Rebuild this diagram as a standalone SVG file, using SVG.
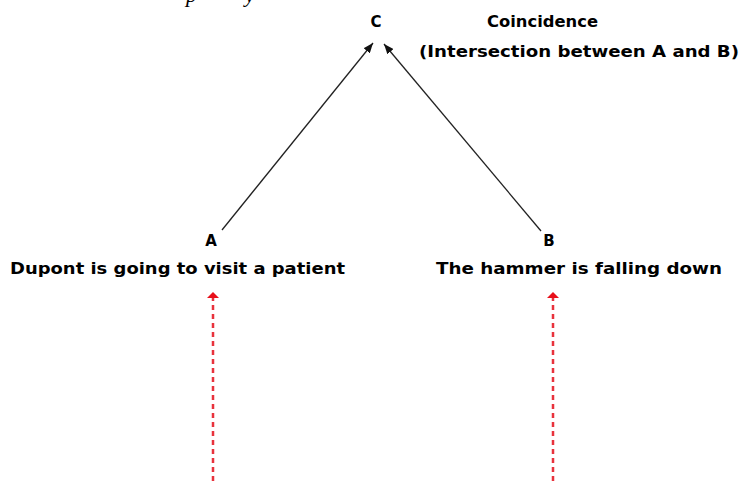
<svg xmlns="http://www.w3.org/2000/svg" width="744" height="481" viewBox="0 0 744 481">
<style>
.lbl{font-family:"DejaVu Sans","Verdana",sans-serif;font-weight:bold;font-size:15px;fill:#000}
.frag{font-family:"Liberation Serif",serif;font-style:italic;font-size:22px;fill:#000}
.blk{stroke:#222;stroke-width:1.3;fill:none}
.red{stroke:#e8323c;stroke-width:2.5;stroke-dasharray:5 4;fill:none}
</style>
<defs>
<marker id="ah" markerWidth="10" markerHeight="8" refX="10" refY="4" orient="auto" markerUnits="userSpaceOnUse">
<path d="M0,0 L10,4 L0,8 Z" fill="#111"/>
</marker>
<marker id="rh" markerWidth="7" markerHeight="12" refX="6" refY="6" orient="auto" markerUnits="userSpaceOnUse">
<path d="M0,0 L6,6 L0,12 Z" fill="#e8101a"/>
</marker>
</defs>
<text class="frag" x="186" y="2">p</text>
<text class="frag" x="245" y="2">y</text>
<g id="connectors">
<line class="blk" x1="222" y1="230" x2="373" y2="43" marker-end="url(#ah)"/>
<line class="blk" x1="541" y1="231" x2="384" y2="44" marker-end="url(#ah)"/>
<line class="red" x1="213" y1="481" x2="213" y2="292" marker-end="url(#rh)"/>
<line class="red" x1="553" y1="481" x2="553" y2="292" marker-end="url(#rh)"/>
</g>
<g id="nodeC">
<text class="lbl" x="376" y="27" text-anchor="middle">C</text>
<text class="lbl" x="487" y="27" textLength="111" lengthAdjust="spacingAndGlyphs">Coincidence</text>
<text class="lbl" x="419" y="57" textLength="320" lengthAdjust="spacingAndGlyphs">(Intersection between A and B)</text>
</g>
<g id="nodeA">
<text class="lbl" x="211" y="246" text-anchor="middle">A</text>
<text class="lbl" x="10" y="274" textLength="335" lengthAdjust="spacingAndGlyphs">Dupont is going to visit a patient</text>
</g>
<g id="nodeB">
<text class="lbl" x="549" y="246" text-anchor="middle">B</text>
<text class="lbl" x="436" y="274" textLength="286" lengthAdjust="spacingAndGlyphs">The hammer is falling down</text>
</g>
</svg>
